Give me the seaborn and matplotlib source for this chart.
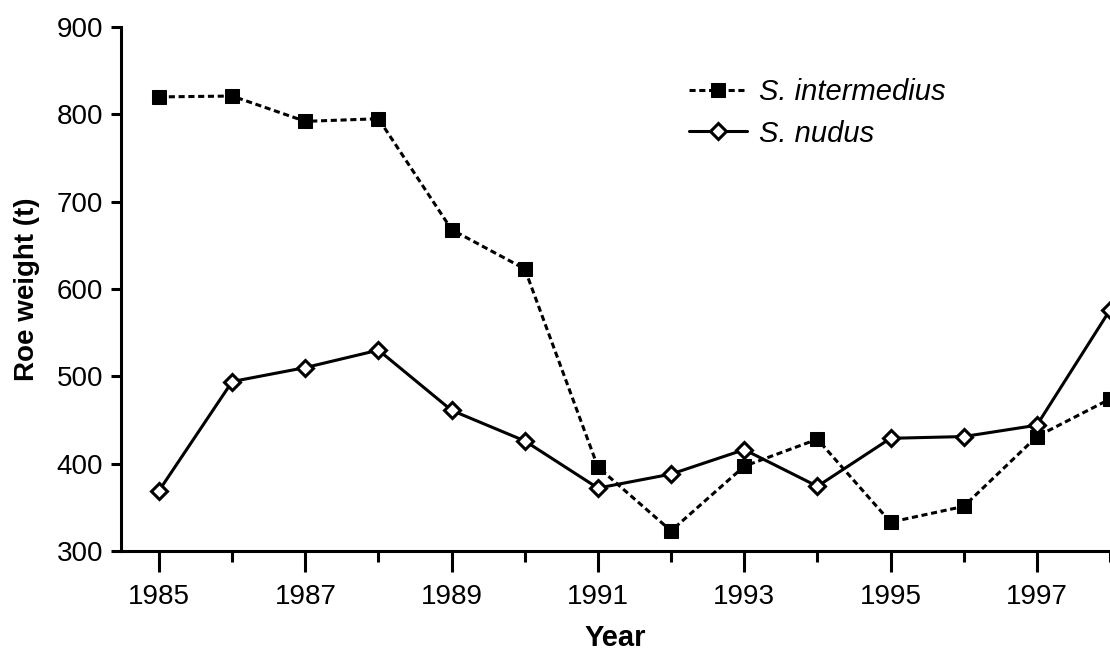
import pandas as pd
import matplotlib
matplotlib.use("Agg")
import matplotlib.pyplot as plt
import seaborn as sns

# Data
years = [1985, 1986, 1987, 1988, 1989, 1990, 1991, 1992, 1993, 1994, 1995, 1996, 1997, 1998]
intermedius = [820, 821, 792, 795, 668, 623, 396, 323, 397, 428, 333, 351, 431, 474]
nudus = [369, 494, 510, 530, 461, 426, 372, 388, 416, 374, 429, 431, 444, 576]

df = pd.DataFrame({"Year": years, "S. intermedius": intermedius, "S. nudus": nudus})

sns.set_theme(style="ticks")
plt.rcParams["font.family"] = ["Liberation Sans", "DejaVu Sans"]
plt.rcParams["text.color"] = "black"

fig = plt.figure(figsize=(11.1, 6.52), dpi=100)
ax = fig.add_axes([0.109, 0.155, 0.891, 0.8035])

sns.lineplot(data=df, x="Year", y="S. intermedius", ax=ax, color="black",
             linestyle=(0, (2.0, 1.2)), linewidth=2.2, marker="s", markersize=10,
             markerfacecolor="black", markeredgecolor="black",
             label="S. intermedius")
sns.lineplot(data=df, x="Year", y="S. nudus", ax=ax, color="black",
             linestyle="-", linewidth=2.2, marker="D", markersize=8.5,
             markerfacecolor="white", markeredgecolor="black", markeredgewidth=2.2,
             label="S. nudus")

ax.set_xlim(1984.48, 1998)
ax.set_ylim(300, 900)
ax.set_xticks(range(1985, 1999, 2))
ax.set_xticks(range(1986, 1999, 2), minor=True)
ax.set_yticks(range(300, 901, 100))

for side in ["top", "right"]:
    ax.spines[side].set_visible(False)
for side in ["left", "bottom"]:
    ax.spines[side].set_linewidth(2.2)
    ax.spines[side].set_color("black")

ax.tick_params(axis="x", which="major", length=15, width=2.2, labelsize=20, pad=9, colors="black")
ax.tick_params(axis="x", which="minor", length=8, width=2.2, colors="black")
ax.tick_params(axis="y", which="major", length=7, width=2.2, labelsize=20, pad=6, colors="black")

ax.set_xlabel("Year", fontsize=21, fontweight="bold", color="black", labelpad=10)
ax.set_ylabel("Roe weight (t)", fontsize=20, fontweight="bold", color="black", labelpad=12)

leg = ax.legend(loc="upper left", bbox_to_anchor=(0.597, 0.92), bbox_transform=fig.transFigure,
                frameon=False, handlelength=2.0, handletextpad=0.4, labelspacing=0.45,
                numpoints=1, prop={"size": 21, "style": "italic"})
for t in leg.get_texts():
    t.set_color("black")

fig.savefig("out.png", dpi=100)
